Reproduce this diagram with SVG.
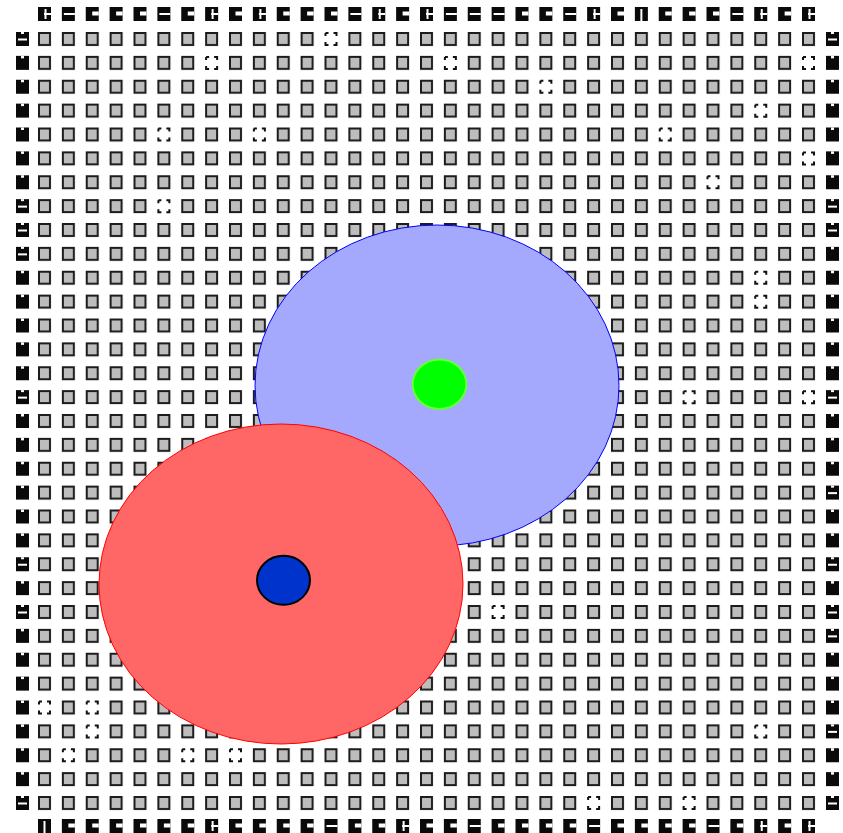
<svg xmlns="http://www.w3.org/2000/svg" width="843" height="833" viewBox="0 0 843 833">
<style>
.clb{fill:#bdbdbd;stroke:#1c1c1c;stroke-width:2}
.dash{fill:#ffffff;stroke:#111;stroke-width:2;stroke-dasharray:3 5 6 6 6 5 6 6 3 0}
.io{fill:#0a0a0a}
.w{fill:#ffffff}
</style>
<defs>
<pattern id="grid" patternUnits="userSpaceOnUse" x="38" y="32" width="23.875" height="23.875">
<rect class="clb" x="1" y="1" width="11" height="12"/>
</pattern>
<g id="dcell"><rect x="-1" y="-1" width="15" height="16" fill="#fff"/><rect class="dash" x="1" y="1" width="11" height="12"/></g>
<g id="ioA"><rect class="io" width="13" height="14"/><rect class="w" x="6.5" y="4.5" width="6.5" height="4"/></g>
<g id="ioB"><rect class="io" width="13" height="14"/><rect class="w" x="2" y="6" width="11" height="2"/></g>
<g id="ioC"><rect class="io" width="13" height="14"/><rect class="w" x="6" y="6" width="7" height="2"/><rect class="w" x="6.5" y="2" width="2" height="10"/></g>
<g id="ioD"><rect class="io" width="13" height="14"/><rect class="w" x="5.5" y="2" width="2" height="12"/></g>
<g id="ioM"><rect class="io" width="13" height="14"/><rect class="w" x="5" y="0" width="3" height="2.5"/></g>
<g id="ioH"><rect class="io" width="13" height="14"/><rect class="w" x="5" y="0" width="3" height="2"/><rect class="w" x="2" y="6.5" width="9" height="2"/></g>
</defs>
<rect width="843" height="833" fill="#ffffff"/>
<g id="clb-grid">
<rect x="38" y="32" width="778" height="779" fill="url(#grid)"/>
<use href="#dcell" x="324.5" y="32"/>
<use href="#dcell" x="205.125" y="55.875"/>
<use href="#dcell" x="443.875" y="55.875"/>
<use href="#dcell" x="802" y="55.875"/>
<use href="#dcell" x="539.375" y="79.75"/>
<use href="#dcell" x="754.25" y="103.625"/>
<use href="#dcell" x="157.375" y="127.5"/>
<use href="#dcell" x="252.875" y="127.5"/>
<use href="#dcell" x="658.75" y="127.5"/>
<use href="#dcell" x="802" y="151.375"/>
<use href="#dcell" x="706.5" y="175.25"/>
<use href="#dcell" x="157.375" y="199.125"/>
<use href="#dcell" x="754.25" y="270.75"/>
<use href="#dcell" x="754.25" y="294.625"/>
<use href="#dcell" x="682.625" y="390.125"/>
<use href="#dcell" x="802" y="390.125"/>
<use href="#dcell" x="491.625" y="605"/>
<use href="#dcell" x="38" y="700.5"/>
<use href="#dcell" x="85.75" y="700.5"/>
<use href="#dcell" x="85.75" y="724.375"/>
<use href="#dcell" x="754.25" y="724.375"/>
<use href="#dcell" x="61.875" y="748.25"/>
<use href="#dcell" x="181.25" y="748.25"/>
<use href="#dcell" x="229" y="748.25"/>
<use href="#dcell" x="587.125" y="796"/>
<use href="#dcell" x="682.625" y="796"/>
</g>
<g id="io-top">
<use href="#ioC" x="38" y="7"/><use href="#ioB" x="61.875" y="7"/><use href="#ioA" x="85.75" y="7"/><use href="#ioA" x="109.625" y="7"/><use href="#ioA" x="133.5" y="7"/><use href="#ioB" x="157.375" y="7"/><use href="#ioA" x="181.25" y="7"/><use href="#ioC" x="205.125" y="7"/><use href="#ioA" x="229" y="7"/><use href="#ioC" x="252.875" y="7"/><use href="#ioA" x="276.75" y="7"/><use href="#ioA" x="300.625" y="7"/><use href="#ioA" x="324.5" y="7"/><use href="#ioB" x="348.375" y="7"/><use href="#ioC" x="372.25" y="7"/><use href="#ioA" x="396.125" y="7"/><use href="#ioC" x="420" y="7"/><use href="#ioB" x="443.875" y="7"/><use href="#ioB" x="467.75" y="7"/><use href="#ioB" x="491.625" y="7"/><use href="#ioA" x="515.5" y="7"/><use href="#ioA" x="539.375" y="7"/><use href="#ioB" x="563.25" y="7"/><use href="#ioC" x="587.125" y="7"/><use href="#ioA" x="611" y="7"/><use href="#ioD" x="634.875" y="7"/><use href="#ioA" x="658.75" y="7"/><use href="#ioA" x="682.625" y="7"/><use href="#ioA" x="706.5" y="7"/><use href="#ioB" x="730.375" y="7"/><use href="#ioC" x="754.25" y="7"/><use href="#ioA" x="778.125" y="7"/><use href="#ioC" x="802" y="7"/>
</g>
<g id="io-bottom">
<use href="#ioD" x="38" y="819"/><use href="#ioA" x="61.875" y="819"/><use href="#ioA" x="85.75" y="819"/><use href="#ioA" x="109.625" y="819"/><use href="#ioA" x="133.5" y="819"/><use href="#ioA" x="157.375" y="819"/><use href="#ioA" x="181.25" y="819"/><use href="#ioC" x="205.125" y="819"/><use href="#ioA" x="229" y="819"/><use href="#ioA" x="252.875" y="819"/><use href="#ioA" x="276.75" y="819"/><use href="#ioA" x="300.625" y="819"/><use href="#ioB" x="324.5" y="819"/><use href="#ioA" x="348.375" y="819"/><use href="#ioA" x="372.25" y="819"/><use href="#ioC" x="396.125" y="819"/><use href="#ioA" x="420" y="819"/><use href="#ioA" x="443.875" y="819"/><use href="#ioB" x="467.75" y="819"/><use href="#ioA" x="491.625" y="819"/><use href="#ioA" x="515.5" y="819"/><use href="#ioA" x="539.375" y="819"/><use href="#ioA" x="563.25" y="819"/><use href="#ioB" x="587.125" y="819"/><use href="#ioA" x="611" y="819"/><use href="#ioA" x="634.875" y="819"/><use href="#ioA" x="658.75" y="819"/><use href="#ioA" x="682.625" y="819"/><use href="#ioB" x="706.5" y="819"/><use href="#ioA" x="730.375" y="819"/><use href="#ioC" x="754.25" y="819"/><use href="#ioA" x="778.125" y="819"/><use href="#ioC" x="802" y="819"/>
</g>
<g id="io-left">
<use href="#ioH" x="16" y="32"/><use href="#ioM" x="16" y="55.875"/><use href="#ioM" x="16" y="79.75"/><use href="#ioM" x="16" y="103.625"/><use href="#ioM" x="16" y="127.5"/><use href="#ioM" x="16" y="151.375"/><use href="#ioM" x="16" y="175.25"/><use href="#ioH" x="16" y="199.125"/><use href="#ioH" x="16" y="223"/><use href="#ioH" x="16" y="246.875"/><use href="#ioM" x="16" y="270.75"/><use href="#ioM" x="16" y="294.625"/><use href="#ioM" x="16" y="318.5"/><use href="#ioM" x="16" y="342.375"/><use href="#ioM" x="16" y="366.25"/><use href="#ioH" x="16" y="390.125"/><use href="#ioM" x="16" y="414"/><use href="#ioM" x="16" y="437.875"/><use href="#ioM" x="16" y="461.75"/><use href="#ioM" x="16" y="485.625"/><use href="#ioM" x="16" y="509.5"/><use href="#ioM" x="16" y="533.375"/><use href="#ioH" x="16" y="557.25"/><use href="#ioM" x="16" y="581.125"/><use href="#ioH" x="16" y="605"/><use href="#ioM" x="16" y="628.875"/><use href="#ioM" x="16" y="652.75"/><use href="#ioM" x="16" y="676.625"/><use href="#ioM" x="16" y="700.5"/><use href="#ioM" x="16" y="724.375"/><use href="#ioM" x="16" y="748.25"/><use href="#ioM" x="16" y="772.125"/><use href="#ioH" x="16" y="796"/>
</g>
<g id="io-right">
<use href="#ioH" x="826" y="32"/><use href="#ioM" x="826" y="55.875"/><use href="#ioM" x="826" y="79.75"/><use href="#ioM" x="826" y="103.625"/><use href="#ioM" x="826" y="127.5"/><use href="#ioM" x="826" y="151.375"/><use href="#ioM" x="826" y="175.25"/><use href="#ioH" x="826" y="199.125"/><use href="#ioH" x="826" y="223"/><use href="#ioM" x="826" y="246.875"/><use href="#ioM" x="826" y="270.75"/><use href="#ioM" x="826" y="294.625"/><use href="#ioM" x="826" y="318.5"/><use href="#ioM" x="826" y="342.375"/><use href="#ioM" x="826" y="366.25"/><use href="#ioH" x="826" y="390.125"/><use href="#ioM" x="826" y="414"/><use href="#ioM" x="826" y="437.875"/><use href="#ioM" x="826" y="461.75"/><use href="#ioH" x="826" y="485.625"/><use href="#ioM" x="826" y="509.5"/><use href="#ioM" x="826" y="533.375"/><use href="#ioH" x="826" y="557.25"/><use href="#ioM" x="826" y="581.125"/><use href="#ioH" x="826" y="605"/><use href="#ioH" x="826" y="628.875"/><use href="#ioM" x="826" y="652.75"/><use href="#ioM" x="826" y="676.625"/><use href="#ioM" x="826" y="700.5"/><use href="#ioH" x="826" y="724.375"/><use href="#ioM" x="826" y="748.25"/><use href="#ioM" x="826" y="772.125"/><use href="#ioH" x="826" y="796"/>
</g>
<g id="region-blue">
<ellipse cx="437" cy="385.5" rx="182" ry="160.5" fill="#a5a9fe" stroke="#0000ff" stroke-width="1"/>
</g>
<g id="region-red">
<ellipse cx="281" cy="584" rx="182" ry="160" fill="#ff6666" stroke="#ff0000" stroke-width="1"/>
</g>
<g id="point-green">
<ellipse cx="439.5" cy="384.2" rx="26.8" ry="24.8" fill="#00ff00" stroke="#66ff33" stroke-width="2"/>
</g>
<g id="point-blue">
<ellipse cx="283.5" cy="580.3" rx="26.5" ry="24.5" fill="#0033cc" stroke="#000000" stroke-width="2"/>
</g>
</svg>
